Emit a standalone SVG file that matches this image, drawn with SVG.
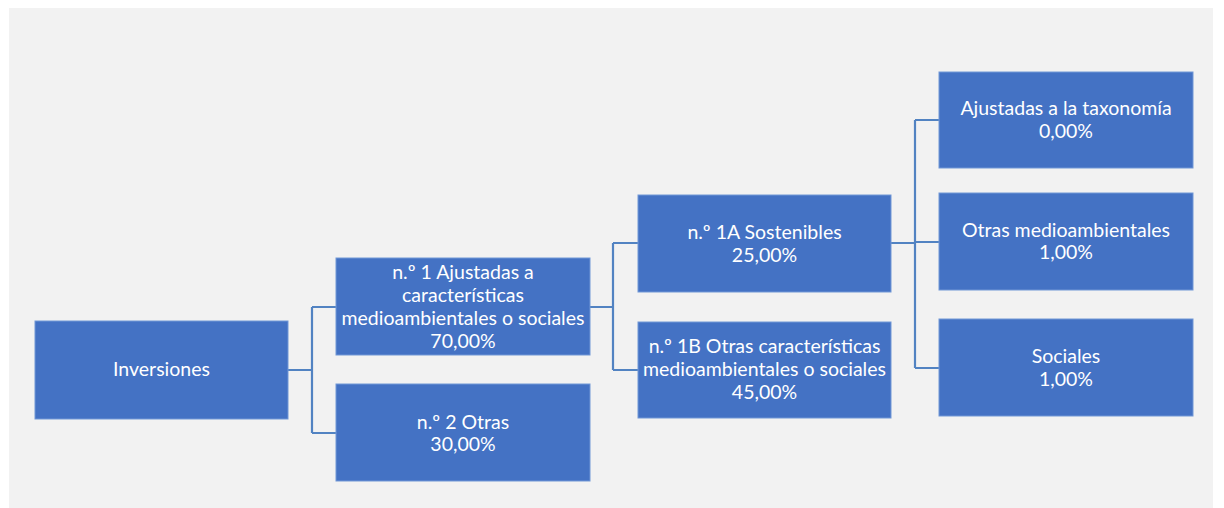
<svg xmlns="http://www.w3.org/2000/svg" width="1224" height="508" viewBox="0 0 1224 508">
<style>
.box{fill:#4472c4;stroke:#7197d6;stroke-width:1}
.t{font-family:Lato,"Liberation Sans",sans-serif;font-size:19.5px;fill:#ffffff;text-anchor:middle}
.c{fill:none;stroke:#5283c2;stroke-width:2.2}
</style>
<rect x="0" y="0" width="1224" height="508" fill="#ffffff"/>
<rect x="9" y="8" width="1204" height="500" fill="#f2f2f2"/>
<g id="connectors">
<path class="c" d="M288,370 H312 M312,307 V433 M312,307 H336 M312,433 H336"/>
<path class="c" d="M590,307 H613 M613,243 V370 M613,243 H638 M613,370 H638"/>
<path class="c" d="M891,243 H915 M915,120 V368 M915,120 H939 M915,242 H939 M915,368 H939"/>
</g>
<g id="n0"><rect class="box" x="35" y="321" width="253" height="98"/>
<text class="t" x="161.5" y="376">Inversiones</text></g>
<g id="n1"><rect class="box" x="336" y="258" width="254" height="97"/>
<text class="t" x="463" y="279">n.º 1 Ajustadas a</text>
<text class="t" x="463" y="302">características</text>
<text class="t" x="463" y="325">medioambientales o sociales</text>
<text class="t" x="463" y="348">70,00%</text></g>
<g id="n2"><rect class="box" x="336" y="384" width="254" height="97"/>
<text class="t" x="463" y="429">n.º 2 Otras</text>
<text class="t" x="463" y="451">30,00%</text></g>
<g id="n1a"><rect class="box" x="638" y="195" width="253" height="97"/>
<text class="t" x="764.5" y="239">n.º 1A Sostenibles</text>
<text class="t" x="764.5" y="262">25,00%</text></g>
<g id="n1b"><rect class="box" x="638" y="322" width="253" height="96"/>
<text class="t" x="764.5" y="353">n.º 1B Otras características</text>
<text class="t" x="764.5" y="376">medioambientales o sociales</text>
<text class="t" x="764.5" y="399">45,00%</text></g>
<g id="r1"><rect class="box" x="939" y="72" width="254" height="96"/>
<text class="t" x="1066" y="115">Ajustadas a la taxonomía</text>
<text class="t" x="1066" y="138">0,00%</text></g>
<g id="r2"><rect class="box" x="939" y="193" width="254" height="97"/>
<text class="t" x="1066" y="237">Otras medioambientales</text>
<text class="t" x="1066" y="259">1,00%</text></g>
<g id="r3"><rect class="box" x="939" y="319" width="254" height="97"/>
<text class="t" x="1066" y="363">Sociales</text>
<text class="t" x="1066" y="386">1,00%</text></g>
</svg>
